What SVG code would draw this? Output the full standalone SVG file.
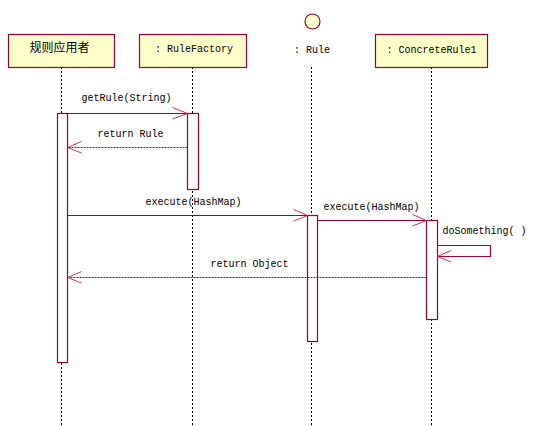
<svg xmlns="http://www.w3.org/2000/svg" width="542" height="426" viewBox="0 0 542 426">
<style>
.box{fill:#ffffcc;stroke:#990033;stroke-width:1.2}
.act{fill:#ffffff;stroke:#990033;stroke-width:1.2}
.life{stroke:#000;stroke-width:1;stroke-dasharray:2,2;fill:none}
.msg{stroke:#990033;stroke-width:1.2;fill:none}
.ret{stroke:#990033;stroke-width:1;stroke-dasharray:2,1;fill:none}
.head{stroke:#cc3366;stroke-width:1;fill:none}
.t{font-family:"Liberation Mono","DejaVu Sans Mono",monospace;font-size:10px;fill:#000}
.c{font-family:"Noto Sans CJK SC","Noto Sans",sans-serif;font-size:12px;fill:#000}
</style>
<rect width="542" height="426" fill="#fff"/>
<g id="lifelines">
<line class="life" x1="61.5" y1="67" x2="61.5" y2="426"/>
<line class="life" x1="192.5" y1="67" x2="192.5" y2="426"/>
<line class="life" x1="311.5" y1="67" x2="311.5" y2="426"/>
<line class="life" x1="431.5" y1="67" x2="431.5" y2="426"/>
</g>
<g id="user">
<rect class="box" x="8.5" y="34.5" width="106" height="33"/>
<text class="c" x="29.5" y="52">规则应用者</text>
</g>
<g id="rulefactory">
<rect class="box" x="139.5" y="34.5" width="107" height="33"/>
<text class="t" x="155" y="52">: RuleFactory</text>
</g>
<g id="rule">
<circle class="box" cx="312.5" cy="21.5" r="7.5"/>
<text class="t" x="294" y="53">: Rule</text>
</g>
<g id="concreterule1">
<rect class="box" x="375.5" y="34.5" width="112" height="33"/>
<text class="t" x="386.5" y="53">: ConcreteRule1</text>
</g>
<g id="activations">
<rect class="act" x="57.5" y="113.5" width="10" height="249"/>
<rect class="act" x="187.5" y="113.5" width="11" height="76"/>
<rect class="act" x="307.5" y="215.5" width="10" height="126"/>
<rect class="act" x="426.5" y="220.5" width="11" height="99"/>
</g>
<g id="connectors">
<line class="msg" x1="67.5" y1="113.5" x2="187.5" y2="113.5"/>
<polyline class="head" points="172.5,107.5 187.5,113.5 172.5,119"/>
<text class="t" x="81.5" y="101">getRule(String)</text>
<line class="ret" x1="187.5" y1="147.5" x2="67.5" y2="147.5"/>
<polyline class="head" points="81.5,141.5 67.5,147.5 81.5,153"/>
<text class="t" x="97.5" y="137">return Rule</text>
<line class="msg" x1="67.5" y1="215.5" x2="307.5" y2="215.5"/>
<polyline class="head" points="293.5,209.5 307.5,215.5 293.5,221"/>
<text class="t" x="145.5" y="205">execute(HashMap)</text>
<line class="msg" x1="317.5" y1="220.5" x2="426.5" y2="220.5"/>
<polyline class="head" points="412.5,214.5 426.5,220.5 412.5,226"/>
<text class="t" x="323.5" y="209.5">execute(HashMap)</text>
<polyline class="msg" points="437.5,245.5 490.5,245.5 490.5,256.5 437.5,256.5"/>
<polyline class="head" points="451,250.5 437.5,256.5 451,262"/>
<text class="t" x="442.5" y="234">doSomething( )</text>
<line class="ret" x1="426.5" y1="277.5" x2="67.5" y2="277.5"/>
<polyline class="head" points="81.5,271.5 67.5,277.5 81.5,283"/>
<text class="t" x="210.5" y="267">return Object</text>
</g>
</svg>
